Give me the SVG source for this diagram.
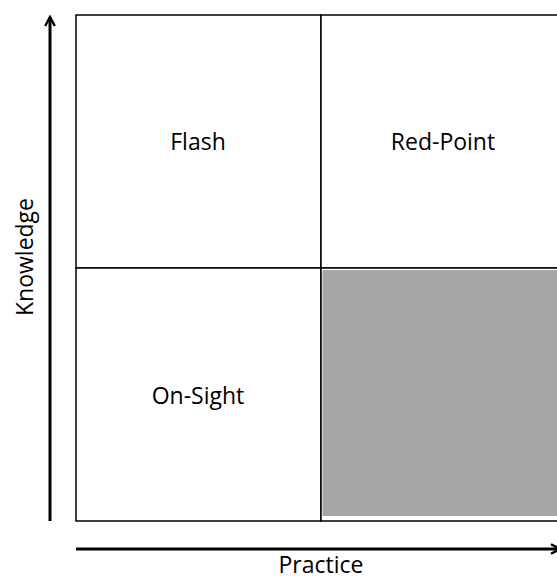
<svg xmlns="http://www.w3.org/2000/svg" width="557" height="579" viewBox="0 0 557 579">
  <style>
    .label { font-family: "Open Sans", "Liberation Sans", sans-serif; font-size: 23px; fill: #000; text-anchor: middle; }
    .cell { fill: #fff; stroke: #000; stroke-width: 1.5; }
    .axis { stroke: #000; stroke-width: 3; fill: none; }
  </style>
  <defs>
    <marker id="head" viewBox="0 0 10 10" refX="8.5" refY="5" markerWidth="4" markerHeight="4" orient="auto" markerUnits="strokeWidth">
      <path d="M1,1 L8.5,5 L1,9" fill="none" stroke="#000" stroke-width="2"/>
    </marker>
  </defs>
  <rect width="557" height="579" fill="#fff"/>

  <!-- quadrants -->
  <g id="flash">
    <rect class="cell" x="76" y="15" width="245" height="253"/>
    <text class="label" x="198" y="150">Flash</text>
  </g>
  <g id="red-point">
    <rect class="cell" x="321" y="15" width="240" height="253"/>
    <text class="label" x="443" y="150">Red-Point</text>
  </g>
  <g id="on-sight">
    <rect class="cell" x="76" y="268" width="245" height="253"/>
    <text class="label" x="198" y="404">On-Sight</text>
  </g>
  <g id="empty">
    <rect class="cell" x="321" y="268" width="240" height="253"/>
    <rect x="322.5" y="270" width="240" height="246" fill="#a6a6a6"/>
  </g>

  <!-- axes -->
  <g id="connectors">
    <line class="axis" x1="50" y1="521" x2="50" y2="17" marker-end="url(#head)"/>
    <line class="axis" x1="76" y1="549" x2="560" y2="549" marker-end="url(#head)"/>
  </g>

  <g id="axis-labels">
    <text class="label" x="321" y="573">Practice</text>
    <text class="label" transform="translate(33,257) rotate(-90)">Knowledge</text>
  </g>
</svg>
